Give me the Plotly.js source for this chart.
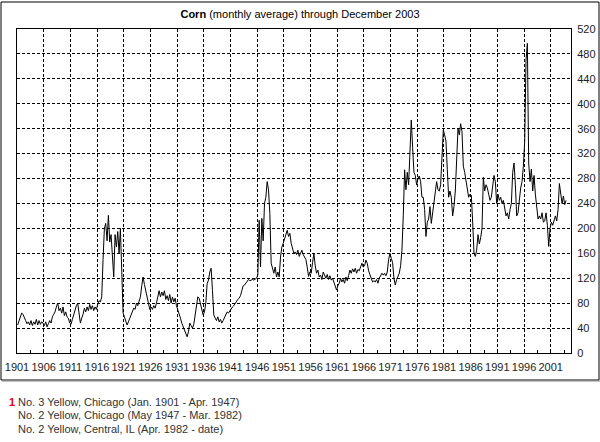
<!DOCTYPE html>
<html>
<head>
<meta charset="utf-8">
<script src="https://cdn.plot.ly/plotly-3.0.1.min.js"></script>
<style>
html,body{margin:0;padding:0;background:#fff;}
#chart{width:600px;height:442px;}
</style>
</head>
<body>
<div id="chart"></div>
<script>
// Corn, cents per bushel, quarterly readings (Q1..Q4 per year)
const corn1901_1910 = [45,52,60,64, 62,58,52,47, 50,45,52,44, 50,46,54,45, 52,46,50,48,
                       44,50,42,47, 52,48,58,62, 66,74,80,68, 72,64,74,60, 66,58,56,48];
const corn1911_1920 = [46,54,62,70, 76,80,66,48, 56,62,72,66, 74,68,78,70, 76,68,74,70,
                       78,84,82,90, 150,200,208,180, 221,178,190,150, 122,190,170,195, 160,200,120,64];
const corn1921_1930 = [58,52,45,50, 56,62,66,72, 70,80,76,82, 90,108,122,110, 100,86,76,70,
                       74,70,76,72, 80,94,100,90, 98,92,100,86, 92,84,94,80, 90,82,88,76];
const corn1931_1940 = [70,64,56,48, 42,36,30,26, 34,48,44,40, 46,60,80,90, 88,80,70,61,
                       66,80,111,117, 130,136,100,61, 56,52,58,50, 54,48,52,56, 62,66,64,68];
const corn1941_1950 = [70,74,76,80, 82,86,88,92, 100,108,109,112, 114,118,116,117, 118,117,119,120,
                       125,213,138,216, 180,240,250,275, 262,224,144,133, 128,138,122,130, 122,154,170,176];
const corn1951_1960 = [182,190,197,187, 192,176,165,160, 162,158,165,155, 160,165,158,155, 150,138,123,130,
                       128,145,160,140, 128,133,122,125, 118,130,124,120, 126,118,124,117, 120,114,108,101];
const corn1961_1970 = [108,112,120,114, 118,112,122,116, 124,133,128,135, 130,136,128,134, 132,139,144,138,
                       140,149,144,132, 126,118,114,116, 114,118,112,120, 123,128,125,128, 124,130,150,160];
const corn1971_1980 = [152,145,120,109, 118,122,128,140, 165,220,294,262, 290,270,340,374, 330,290,285,270,
                       280,284,275,250, 250,230,187,210, 215,235,208,225, 240,250,275,262, 260,270,320,358];
const corn1981_1990 = [350,340,295,250, 260,250,220,235, 260,300,360,350, 368,355,300,290, 275,260,250,255,
                       253,210,160,155, 165,190,175,185, 200,282,260,270, 265,255,245,250, 265,285,275,240];
const corn1991_2000 = [255,245,250,240, 245,235,220,225, 215,230,240,290, 305,270,220,225, 250,265,275,300,
                       340,470,497,305, 275,295,260,285, 255,235,215,220, 215,225,210,212, 225,205,171,200];
const corn2001_2003 = [210,205,215,220, 212,230,272,255, 240,252,238,245];

const yearTicks = [1901,1906,1911,1916,1921,1926,1931,1936,1941,1946,1951,1956,1961,1966,1971,1976,1981,1986,1991,1996,2001];
const priceTicks = [0,40,80,120,160,200,240,280,320,360,400,440,480,520];
const legendLines = [
  "No. 3 Yellow, Chicago (Jan. 1901 - Apr. 1947)",
  "No. 2 Yellow, Chicago (May 1947 - Mar. 1982)",
  "No. 2 Yellow, Central, IL (Apr. 1982 - date)"
];

const prices = [].concat(corn1901_1910, corn1911_1920, corn1921_1930, corn1931_1940, corn1941_1950,
                         corn1951_1960, corn1961_1970, corn1971_1980, corn1981_1990, corn1991_2000, corn2001_2003);
const dates = prices.map((_, i) => 1901 + i / 4 + 0.125);

const FONT = "Liberation Sans, Arial, sans-serif";
const L = 17, R = 571, T = 29, B = 353;
const W = R - L, H = B - T;
const px = x => (x - L) / W;
const py = y => (B - y) / H;

const annotations = legendLines.map((t, i) => ({
  xref: 'paper', yref: 'paper', x: px(17), y: py(401.5 + i * 13.7),
  xanchor: 'left', yanchor: 'middle', showarrow: false, text: t,
  font: {family: FONT, size: 11, color: '#333'}, borderpad: 0
}));
annotations.push({
  xref: 'paper', yref: 'paper', x: px(8), y: py(401.5),
  xanchor: 'left', yanchor: 'middle', showarrow: false, text: '<b>1</b>',
  font: {family: FONT, size: 11, color: '#e00000'}, borderpad: 0
});

const layout = {
  width: 600, height: 442,
  margin: {l: L, r: 600 - R, t: T, b: 442 - B, pad: 0},
  paper_bgcolor: '#fff', plot_bgcolor: '#fff',
  showlegend: false,
  title: {
    text: '<b>Corn</b> (monthly average) through December 2003',
    font: {family: FONT, size: 11, color: '#000'},
    x: 0.5, xref: 'container', xanchor: 'center',
    y: 1 - 14 / 442, yref: 'container', yanchor: 'middle'
  },
  xaxis: {
    range: [1901, 2004.8], tickvals: yearTicks, ticktext: yearTicks.map(String),
    showgrid: true, gridcolor: '#000', griddash: '3px,2px', gridwidth: 1,
    ticks: 'inside', ticklen: 3, tickcolor: '#000', tickwidth: 1,
    minor: {tick0: 1901, dtick: 2.5, ticks: 'inside', ticklen: 3, tickcolor: '#000', showgrid: false},
    showline: true, linecolor: '#000', linewidth: 1, mirror: true,
    zeroline: false, ticklabelstandoff: 4,
    tickfont: {family: FONT, size: 11, color: '#222'}
  },
  yaxis: {
    range: [0, 520], tickvals: priceTicks, side: 'right',
    showgrid: true, gridcolor: '#000', griddash: '3px,2px', gridwidth: 1,
    ticks: '', showline: true, linecolor: '#000', linewidth: 1, mirror: true,
    zeroline: false, ticklabelstandoff: 3,
    tickfont: {family: FONT, size: 11, color: '#222'}
  },
  shapes: [
    {type: 'rect', xref: 'paper', yref: 'paper', x0: px(1), x1: px(599), y0: py(380), y1: py(2),
     line: {color: '#000', width: 1}, fillcolor: 'rgba(0,0,0,0)', layer: 'below'},
    {type: 'line', xref: 'paper', yref: 'paper', x0: px(2), x1: px(600), y0: py(381), y1: py(381),
     line: {color: '#888', width: 1}}
  ],
  annotations: annotations
};

Plotly.newPlot('chart', [{
  x: dates, y: prices, type: 'scatter', mode: 'lines',
  line: {color: '#000', width: 1}, hoverinfo: 'skip'
}], layout, {staticPlot: true, displayModeBar: false});
</script>
</body>
</html>
